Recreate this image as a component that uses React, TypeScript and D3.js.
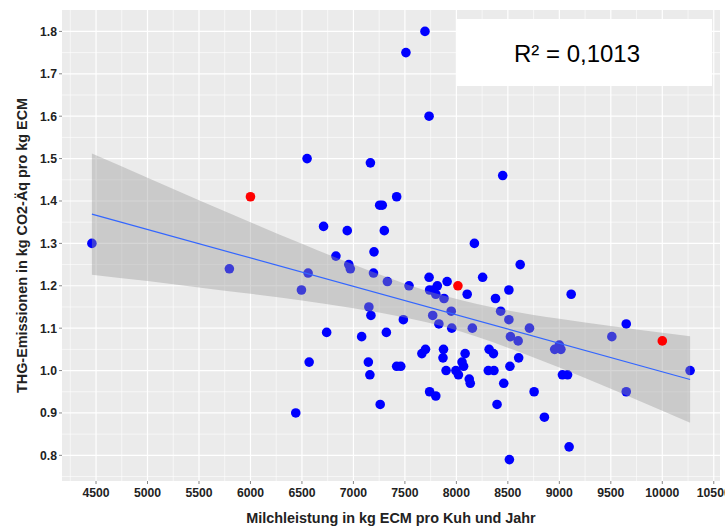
import React from "react";
import * as d3 from "d3";

// Milk yield (kg ECM per cow and year) and GHG emissions (kg CO2-eq per kg ECM)
const blueX = [4460, 5795, 6440, 6495, 6550, 6560, 6570, 6710, 6740, 6830, 6940, 6955, 6970, 7080, 7145, 7150, 7160, 7165, 7170, 7195, 7200, 7260, 7255, 7280, 7300, 7320, 7330, 7420, 7420, 7460, 7485, 7510, 7540, 7665, 7695, 7700, 7735, 7735, 7740, 7740, 7770, 7780, 7800, 7800, 7815, 7830, 7870, 7875, 7880, 7900, 7910, 7950, 7955, 7995, 8020, 8055, 8070, 8085, 8105, 8125, 8135, 8155, 8175, 8255, 8310, 8318, 8360, 8365, 8380, 8395, 8430, 8450, 8460, 8510, 8510, 8515, 8520, 8525, 8600, 8605, 8620, 8710, 8755, 8855, 8955, 9000, 9015, 9030, 9080, 9095, 9115, 9510, 9650, 9650, 10270];
const blueY = [1.30, 1.24, 0.90, 1.19, 1.50, 1.23, 1.02, 1.34, 1.09, 1.27, 1.33, 1.25, 1.24, 1.08, 1.02, 1.15, 0.99, 1.49, 1.13, 1.23, 1.28, 0.92, 1.39, 1.39, 1.33, 1.09, 1.21, 1.41, 1.01, 1.01, 1.12, 1.75, 1.20, 1.04, 1.80, 1.05, 1.60, 1.22, 1.19, 0.95, 1.13, 1.19, 1.18, 0.94, 1.20, 1.11, 1.03, 1.05, 1.17, 1.00, 1.21, 1.14, 1.10, 1.00, 0.99, 1.02, 1.01, 1.04, 1.18, 0.98, 0.97, 1.10, 1.30, 1.22, 1.00, 1.05, 1.04, 1.00, 1.17, 0.92, 1.14, 1.46, 0.97, 1.19, 1.12, 0.79, 1.01, 1.08, 1.07, 1.03, 1.25, 1.10, 0.95, 0.89, 1.05, 1.06, 1.05, 0.99, 0.99, 0.82, 1.18, 1.08, 1.11, 0.95, 1.00];
const redX = [6000, 8015, 10000];
const redY = [1.41, 1.20, 1.07];

// Linear fit and its confidence band
const fitX = [4460, 10270];
const fitY = [1.369, 0.979];
const bandX = [4460, 5000, 5500, 6000, 6500, 7000, 7500, 7900, 8500, 9000, 9500, 10000, 10270];
const bandHi = [1.512, 1.455, 1.402, 1.350, 1.299, 1.250, 1.205, 1.175, 1.142, 1.122, 1.105, 1.089, 1.081];
const bandLo = [1.226, 1.211, 1.196, 1.181, 1.165, 1.147, 1.125, 1.102, 1.054, 1.007, 0.957, 0.905, 0.877];

const xTicks = [4500, 5000, 5500, 6000, 6500, 7000, 7500, 8000, 8500, 9000, 9500, 10000, 10500];
const yTicks = [0.8, 0.9, 1.0, 1.1, 1.2, 1.3, 1.4, 1.5, 1.6, 1.7, 1.8];
const xMinor = [4250, 4750, 5250, 5750, 6250, 6750, 7250, 7750, 8250, 8750, 9250, 9750, 10250];
const yMinor = [0.75, 0.85, 0.95, 1.05, 1.15, 1.25, 1.35, 1.45, 1.55, 1.65, 1.75];

const xTitle = "Milchleistung in kg ECM pro Kuh und Jahr";
const yTitle = "THG-Emissionen in kg CO2-Äq pro kg ECM";
const r2Label = "R² = 0,1013";

const W = 725, H = 527;
const M = { left: 62, right: 5, top: 10, bottom: 46 };

export default function App() {
  const allX = [...blueX, ...redX];
  const allY = [...blueY, ...redY];
  const [x0, x1] = d3.extent(allX) as [number, number];
  const [y0, y1] = d3.extent(allY) as [number, number];
  const ex = (x1 - x0) * 0.05, ey = (y1 - y0) * 0.05;
  const x = d3.scaleLinear().domain([x0 - ex, x1 + ex]).range([M.left, W - M.right]);
  const y = d3.scaleLinear().domain([y0 - ey, y1 + ey]).range([H - M.bottom, M.top]);

  const band = bandX.map((v, i) => ({ v, lo: bandLo[i], hi: bandHi[i] }));
  const area = d3.area<any>().x(d => x(d.v)).y0(d => y(d.lo)).y1(d => y(d.hi)).curve(d3.curveMonotoneX);
  const fit = fitX.map((v, i) => ({ v, f: fitY[i] }));
  const line = d3.line<any>().x(d => x(d.v)).y(d => y(d.f));

  const [px0, px1] = x.range();
  const [py0, py1] = y.range();
  const font = "'Liberation Sans', Arial, sans-serif";

  return (
    <div style={{ position: "absolute", left: 0, top: 0 }}>
      <svg width={W} height={H} style={{ display: "block", background: "#fff" }}>
        <rect x={px0} y={py1} width={px1 - px0} height={py0 - py1} fill="#EBEBEB" />
        {xMinor.map(v => <line key={"xm" + v} x1={x(v)} x2={x(v)} y1={py1} y2={py0} stroke="#fff" strokeWidth={0.6} />)}
        {yMinor.map(v => <line key={"ym" + v} y1={y(v)} y2={y(v)} x1={px0} x2={px1} stroke="#fff" strokeWidth={0.6} />)}
        {xTicks.map(v => <line key={"xg" + v} x1={x(v)} x2={x(v)} y1={py1} y2={py0} stroke="#fff" strokeWidth={1.2} />)}
        {yTicks.map(v => <line key={"yg" + v} y1={y(v)} y2={y(v)} x1={px0} x2={px1} stroke="#fff" strokeWidth={1.2} />)}

        {blueX.map((v, i) => <circle key={"b" + i} cx={x(v)} cy={y(blueY[i])} r={4.8} fill="#0000FF" />)}
        <path d={area(band)!} fill="#999999" fillOpacity={0.4} />
        <path d={line(fit)!} fill="none" stroke="#3366FF" strokeWidth={1.2} />
        {redX.map((v, i) => <circle key={"r" + i} cx={x(v)} cy={y(redY[i])} r={4.8} fill="#FF0000" />)}

        {xTicks.map(v => (
          <g key={"xt" + v}>
            <line x1={x(v)} x2={x(v)} y1={py0} y2={py0 + 3} stroke="#888" strokeWidth={1} />
            <text x={x(v)} y={497} textAnchor="middle" fontFamily={font} fontWeight="bold" fontSize={12.2} fill="#222">{v}</text>
          </g>
        ))}
        {yTicks.map(v => (
          <g key={"yt" + v}>
            <line x1={px0 - 3} x2={px0} y1={y(v)} y2={y(v)} stroke="#888" strokeWidth={1} />
            <text x={57} y={y(v)} dy="0.36em" textAnchor="end" fontFamily={font} fontWeight="bold" fontSize={12.2} fill="#222">{d3.format(".1f")(v)}</text>
          </g>
        ))}

        <text x={(px0 + px1) / 2} y={522.5} textAnchor="middle" fontFamily={font} fontWeight="bold" fontSize={14.4} fill="#222">{xTitle}</text>
        <text transform={`translate(27,${(py0 + py1) / 2}) rotate(-90)`} textAnchor="middle" fontFamily={font} fontWeight="bold" fontSize={14.4} fill="#222">{yTitle}</text>

        <rect x={457} y={19} width={255} height={67} fill="#fff" />
        <text x={577} y={61.7} textAnchor="middle" fontFamily={font} fontSize={24} fill="#000">{r2Label}</text>
      </svg>
    </div>
  );
}
